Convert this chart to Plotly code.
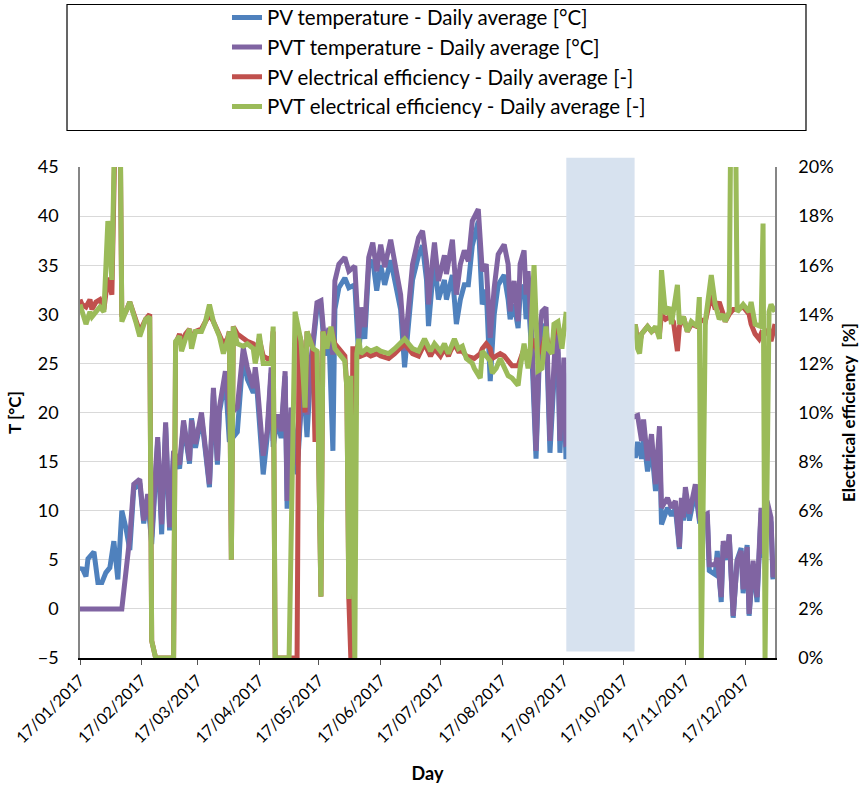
import pandas as pd
import plotly.graph_objects as go

START = pd.Timestamp("2017-01-17")

# ---- PV temperature (blue), daily average [°C] : day offset from 17/01/2017 ----
PV_T_DAYS = [0,1,3,4,7,9,11,13,15,17,19,21,23,25,27,30,32,34,36,39,41,43,45,47,50,52,55,56,58,61,63,65,67,69,70,73,75,79,82,84,87,88,89,92,94,96,97,99,101,103,104,106,109,112,114,116,119,121,123,125,127,128,130,133,135,138,140,141,143,145,147,149,151,153,156,158,161,163,165,167,170,172,174,175,177,178,180,183,184,187,189,191,193,195,197,200,202,204,206,208,210,213,215,216,218,220,221,223,224,225,227,229,231,232,234,236,239,240,241,243,244,279,280,282,283,285,287,289,291,292,295,297,299,301,302,303,304,306,309,311,315,316,319,320,322,323,325,326,328,330,332,333,335,336,338,340,342,343,345,347,348]
PV_T = [3.9,4.2,3.3,5.1,5.8,2.7,2.7,3.7,4.2,6.9,3.0,10.0,8.3,6.0,12.2,12.8,8.7,11.3,6.6,17.0,7.6,18.5,8.0,15.6,14.3,18.8,14.8,19.4,16.4,19.6,16.0,12.4,22.0,14.7,20.0,23.5,17.0,18.0,26.0,23.4,22.0,22.5,22.0,13.7,17.5,24.0,16.5,19.3,17.4,23.7,10.2,20.0,13.7,23.8,17.5,24.8,30.6,30.8,25.8,27.8,16.1,30.5,32.7,33.7,32.7,33.0,25.5,29.5,27.5,35.0,35.5,32.4,35.0,33.0,35.5,33.5,30.5,24.6,29.5,33.5,36.0,37.0,33.5,28.8,33.5,35.5,31.5,33.5,31.5,34.0,29.0,31.5,33.0,33.0,37.0,39.5,31.0,32.5,23.2,30.0,33.0,34.0,31.5,29.5,31.0,28.6,32.0,33.0,29.5,32.0,25.5,15.3,27.5,28.5,29.0,15.9,27.0,26.0,15.9,24.0,15.5,15.6,17.0,15.3,17.5,14.0,16.5,12.0,17.5,8.6,10.3,9.5,10.2,6.1,10.5,9.0,11.8,9.0,12.0,9.0,9.3,3.9,3.5,5.9,0.7,6.5,5.0,7.5,-0.9,5.0,6.2,1.6,6.5,-0.7,4.5,0.7,9.8,5.2,10.5,8.8,3.0]

# ---- PVT temperature (purple), daily average [°C] ----
PVT_T_DAYS = [0,21,25,27,30,32,34,36,39,41,43,45,47,50,52,55,56,58,61,63,65,67,69,70,73,75,79,82,84,87,88,89,92,94,96,97,99,101,103,104,106,109,112,114,116,119,121,123,125,127,128,130,133,135,138,140,141,143,145,147,149,151,153,156,158,161,163,165,167,170,172,174,175,177,178,180,183,184,187,189,191,193,195,197,200,202,204,206,208,210,213,215,216,218,220,221,223,224,225,227,229,231,232,234,236,239,240,241,243,244,279,280,282,283,285,287,289,291,292,295,297,299,301,302,303,304,306,309,311,315,316,319,320,322,323,325,326,328,330,332,333,335,336,338,340,342,343,345,347,348]
PVT_T = [0,0,7.3,12.7,13.2,9.0,11.7,7.3,17.5,8.6,19.0,8.3,16.1,14.7,19.2,15.1,19.2,16.8,20.0,16.4,12.7,22.5,15.1,20.5,24.2,19.8,20.5,26.6,24.6,22.5,24.6,22.9,15.6,18.1,24.6,17.1,19.8,18.1,24.2,11.0,20.5,14.7,24.2,19.8,25.3,31.2,31.4,26.6,28.6,25.9,33.4,35.1,35.8,34.4,34.9,27.6,30.7,28.7,35.8,37.3,34.4,37.1,34.8,37.6,35.4,32.0,26.3,30.7,35.1,37.8,38.5,35.4,31.0,35.4,37.3,33.4,36.0,34.1,37.6,32.0,35.1,36.5,35.4,39.5,40.7,34.4,35.1,27.6,32.7,36.1,37.1,35.1,30.3,33.4,29.3,35.1,36.5,32.0,34.4,27.3,16.1,28.6,30.3,30.7,17.1,28.6,27.6,17.1,25.6,16.8,19.5,19.7,17.1,19.3,15.1,17.8,12.7,18.6,10.3,11.3,10.3,11.0,6.3,11.3,9.3,12.4,9.7,12.7,9.3,9.7,4.5,4.5,5.2,1.2,6.9,5.2,7.6,-0.7,4.9,5.9,2.0,6.3,-0.5,4.9,1.2,10.3,5.6,11.0,9.3,3.2]

# ---- PV electrical efficiency (red), daily average [%] ----
PV_E_DAYS = [0,1,3,5,6,8,10,12,14,16,18,20,21,23,25,28,30,33,35,36,38,47,48,50,51,53,55,56,58,61,63,65,67,70,72,74,75,76,77,79,82,84,87,88,89,90,92,94,96,97,98,109,110,111,113,114,117,118,119,121,122,124,126,128,130,133,134,135,136,137,139,140,141,144,146,149,151,155,158,163,167,170,173,176,178,181,183,185,186,188,190,192,194,197,198,201,202,204,206,207,209,211,213,215,217,220,221,223,225,226,228,230,232,234,235,237,238,240,242,244,279,280,281,282,285,287,289,291,292,294,296,298,300,301,303,305,307,310,311,314,317,319,321,323,324,326,328,330,333,336,337,339,341,342,343,346,347,349]
PV_E = [14.6,14.4,14.3,14.6,14.2,14.5,14.6,14.2,15.5,14.8,23,23,13.9,14.1,14.5,13.8,13.3,13.8,14.0,0.7,0,0,12.8,13.2,12.8,13.2,13.4,12.9,13.3,13.4,13.7,14.0,13.7,13.2,12.8,13.0,13.3,4.0,13.5,13.2,13.0,12.9,12.8,12.4,12.6,13.0,12.3,12.2,12.2,13.3,0,0,13.2,12.9,10.0,13.3,12.6,8.8,12.5,2.5,13.3,12.8,13.4,12.8,12.6,12.3,11.0,2.4,0,12.6,12.6,12.8,12.3,12.4,12.3,12.4,12.3,12.2,12.4,12.8,12.4,12.3,12.8,12.3,12.6,12.3,12.6,12.3,12.5,12.8,12.5,12.5,12.3,12.2,12.2,12.4,12.6,12.8,12.6,12.2,12.3,12.4,12.3,12.1,11.9,11.9,12.1,12.6,12.3,12.5,13.0,12.4,12.6,13.2,12.8,12.7,13.2,13.4,13.0,13.7,13.5,12.9,12.8,13.2,13.5,13.3,13.4,13.2,14.0,13.8,13.9,13.7,12.5,13.5,13.9,13.3,13.6,13.5,13.8,13.7,14.8,14.2,14.5,14.0,13.7,14.0,14.2,14.2,14.3,14.0,13.6,13.2,13.0,13.2,13.1,13.4,12.9,13.6]

# ---- PVT electrical efficiency (green), daily average [%] ----
PVT_E_DAYS = [0,1,3,5,6,8,10,12,14,16,18,20,21,23,25,28,30,33,35,36,38,47,48,50,51,53,55,56,58,61,63,65,67,70,72,74,75,76,77,79,82,84,87,88,89,90,92,94,96,97,98,105,108,111,113,114,117,119,121,122,124,126,128,130,133,134,135,136,138,139,140,141,144,146,149,151,155,158,163,167,170,173,176,178,181,183,185,186,188,190,192,194,197,198,201,202,204,206,207,209,211,213,215,217,220,221,223,225,226,228,230,232,234,235,237,238,240,242,244,279,280,281,282,285,287,289,291,292,294,296,297,300,301,303,305,307,310,311,312,314,317,319,321,323,324,325,326,327,329,330,333,336,337,339,341,342,343,344,346,347,349]
PVT_E = [14.4,14.1,13.6,14.1,13.9,14.1,14.3,14.1,17.8,15.4,24,24,13.7,14.1,14.5,13.7,13.1,13.8,13.9,0.7,0,0,12.9,13.1,12.5,13.0,13.4,12.6,13.3,13.3,13.7,14.4,13.7,13.1,12.4,12.9,13.3,4.0,13.5,12.8,12.7,12.8,12.6,12.0,12.4,13.2,12.0,12.0,12.0,13.5,0,0,14.1,12.9,10.2,13.3,12.6,12.5,2.5,13.3,12.6,13.5,12.6,12.4,12.1,11.0,2.4,11.5,0,12.4,13.0,12.4,12.6,12.5,12.6,12.5,12.4,12.6,13.0,12.6,12.5,13.0,12.5,12.8,12.5,12.8,12.4,12.6,13.0,12.6,12.7,12.2,12.0,11.8,11.4,12.5,12.3,12.1,11.6,11.8,12.2,11.9,11.5,11.4,11.1,11.8,12.8,11.8,12.4,16.0,11.7,11.8,13.5,12.6,12.4,13.6,13.7,12.6,14.0,13.5,12.6,12.4,13.2,13.5,13.3,13.5,13.0,15.8,14.0,14.3,13.6,15.2,13.6,13.9,13.3,13.7,13.5,14.7,0,13.7,15.6,14.4,13.8,14.0,13.7,13.9,14.1,24,24,14.1,14.4,14.1,14.5,13.6,13.5,13.5,17.7,0,14.1,14.4,14.1]

TICK_LABELS = ["17/01/2017","17/02/2017","17/03/2017","17/04/2017","17/05/2017","17/06/2017",
               "17/07/2017","17/08/2017","17/09/2017","17/10/2017","17/11/2017","17/12/2017"]
SERIES_NAMES = ["PV temperature - Daily average [°C]", "PVT temperature - Daily average [°C]",
                "PV electrical efficiency - Daily average [-]", "PVT electrical efficiency - Daily average [-]"]
COLORS = ["#4F81BD", "#8064A2", "#C0504D", "#9BBB59"]
GAP_START_DAY, GAP_END_DAY = 244.2, 278.5   # shaded (missing data) period


def to_dates(days):
    return [START + pd.Timedelta(days=d) for d in days]


FONT = "Lato"
fig = go.Figure()
series = [(PV_T_DAYS, PV_T, "y"), (PVT_T_DAYS, PVT_T, "y"),
          (PV_E_DAYS, PV_E, "y2"), (PVT_E_DAYS, PVT_E, "y2")]
for i, (d, v, ax) in enumerate(series):
    fig.add_trace(go.Scatter(x=to_dates(d), y=v, mode="lines", name=SERIES_NAMES[i],
                             yaxis=ax, legendgroup=str(i),
                             line=dict(color=COLORS[i], width=5)))

tickvals = [pd.to_datetime(t, format="%d/%m/%Y") for t in TICK_LABELS]

fig.update_layout(
    width=863, height=791,
    margin=dict(l=80, r=88, t=167, b=133, autoexpand=False),
    paper_bgcolor="white", plot_bgcolor="white",
    font=dict(family=FONT, color="black", size=18),
    showlegend=True,
    legend=dict(x=0.2115, y=1.345, xanchor="left", yanchor="top",
                bgcolor="rgba(0,0,0,0)", font=dict(family=FONT, size=20.5, color="black"),
                traceorder="grouped", tracegroupgap=0, itemwidth=30),
    xaxis=dict(type="date", range=[START, pd.Timestamp("2018-01-01")],
               tickvals=tickvals, ticktext=TICK_LABELS, tickangle=-45,
               tickfont=dict(family=FONT, size=16, color="black"),
               showgrid=False, showline=True, linecolor="black", linewidth=1.5,
               ticks="outside", ticklen=5, tickwidth=1.2, tickcolor="#555555",
               title=dict(text="<b>Day</b>", font=dict(family=FONT, size=18), standoff=22),
               zeroline=False, automargin=False),
    yaxis=dict(range=[-5, 45], dtick=5, tick0=-5,
               showgrid=True, gridcolor="#d9d9d9", gridwidth=1.3,
               showline=True, linecolor="#868686", linewidth=1.5,
               ticks="", ticklabelstandoff=16,
               tickfont=dict(family=FONT, size=18, color="black"),
               title=dict(text="<b>T [°C]</b>", font=dict(family=FONT, size=17), standoff=12),
               zeroline=False, automargin=False),
    yaxis2=dict(range=[0, 20], dtick=2, ticksuffix="%", overlaying="y", side="right",
                showgrid=False, showline=True, linecolor="#868686", linewidth=1.5,
                ticks="", ticklabelstandoff=18,
                tickfont=dict(family=FONT, size=18, color="black"),
                title=dict(text="<b>Electrical efficiency  [%]</b>", font=dict(family=FONT, size=17), standoff=10),
                zeroline=False, automargin=False),
    shapes=[
        dict(type="rect", xref="x", yref="paper",
             x0=START + pd.Timedelta(days=GAP_START_DAY), x1=START + pd.Timedelta(days=GAP_END_DAY),
             y0=0.013, y1=1.019, fillcolor="#d7e2ef", line=dict(width=0), layer="above"),
        dict(type="rect", xref="paper", yref="paper", x0=-0.0187, x1=1.0446, y0=1.0743, y1=1.331,
             line=dict(color="black", width=1.2), fillcolor="rgba(0,0,0,0)"),
    ],
)

fig.write_html("out.html")
